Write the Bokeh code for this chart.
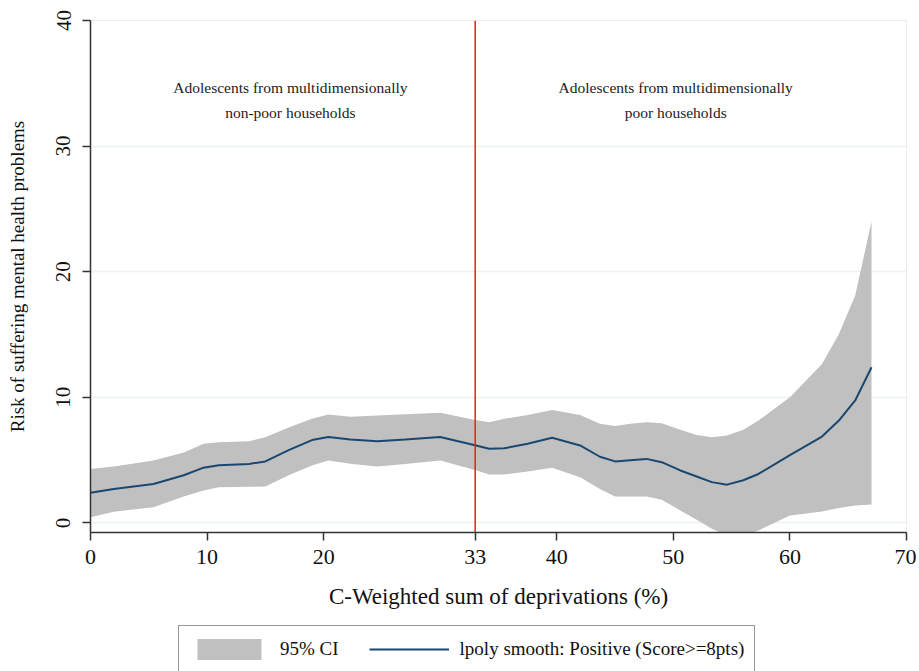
from bokeh.plotting import figure
from bokeh.layouts import column
from bokeh.models import ColumnDataSource, Range1d, Span, Label, Legend, LegendItem, FixedTicker
from bokeh.embed import file_html
from bokeh.resources import INLINE

# ---- data ----
deprivation = [0, 2, 5.4, 8, 9.7, 11, 13.6, 15, 17, 19, 20.4, 22.3, 24.6, 27, 30,
               32.9, 34.2, 35.5, 37.5, 39.6, 42, 43.7, 45, 46.3, 47.7, 49, 50.6,
               52, 53.3, 54.6, 56, 57.3, 60, 62.75, 64.2, 65.6, 67]
risk = [2.4, 2.7, 3.1, 3.8, 4.4, 4.6, 4.7, 4.9, 5.8, 6.6, 6.85, 6.65, 6.5, 6.65, 6.85,
        6.2, 5.9, 5.95, 6.3, 6.78, 6.17, 5.27, 4.9, 5.0, 5.1, 4.84, 4.18,
        3.7, 3.25, 3.05, 3.4, 3.9, 5.4, 6.88, 8.15, 9.75, 12.4]
ci_upper = [4.3, 4.5, 4.97, 5.6, 6.3, 6.43, 6.5, 6.83, 7.6, 8.3, 8.63, 8.45, 8.55, 8.65, 8.77,
            8.21, 8.02, 8.29, 8.6, 9.0, 8.6, 7.9, 7.72, 7.9, 8.02, 7.94, 7.41,
            7.0, 6.83, 6.96, 7.41, 8.15, 10.0, 12.66, 15.05, 18.1, 24.0]
ci_lower = [0.46, 0.9, 1.26, 2.1, 2.59, 2.85, 2.88, 2.9, 3.8, 4.57, 4.97, 4.71, 4.5, 4.7, 4.97,
            4.23, 3.86, 3.86, 4.1, 4.39, 3.64, 2.7, 2.11, 2.11, 2.11, 1.85, 1.0,
            0.25, -0.46, -1.0, -1.0, -0.6, 0.6, 0.91, 1.2, 1.39, 1.47]
x_ticks = [0, 10, 20, 33, 40, 50, 60, 70]
y_ticks = [0, 10, 20, 30, 40]
poverty_cutoff = 33
label_left = "Adolescents from multidimensionally\nnon-poor households"
label_right = "Adolescents from multidimensionally\npoor households"

FONT = "Liberation Serif"
BAND = '#c0c0c0'
NAVY = '#1a476f'

src = ColumnDataSource(dict(x=deprivation, y=risk, lo=ci_lower, hi=ci_upper))

p = figure(width=916, height=622, output_backend="svg", toolbar_location=None,
           x_range=Range1d(0, 70), y_range=Range1d(-0.76, 40),
           min_border_left=90, min_border_top=20, min_border_right=10, min_border_bottom=90)

band = p.varea(x='x', y1='lo', y2='hi', source=src, fill_color=BAND, fill_alpha=1)
line = p.line(x='x', y='y', source=src, line_color=NAVY, line_width=2)

p.add_layout(Span(location=poverty_cutoff, dimension='height', line_color='#f01a1a', line_width=1.5))

for txt, xc in [(label_left, 17.15), (label_right, 50.2)]:
    p.add_layout(Label(x=xc, y=35.35, text=txt, text_align='center', text_baseline='top',
                       text_font=FONT, text_font_size='15.5px', text_color='#222222',
                       text_line_height=1.5))

# axes
p.xaxis.ticker = FixedTicker(ticks=x_ticks)
p.yaxis.ticker = FixedTicker(ticks=y_ticks)
for ax in (p.xaxis[0], p.yaxis[0]):
    ax.axis_line_color = '#333333'
    ax.axis_line_width = 1.5
    ax.major_tick_line_color = '#333333'
    ax.major_tick_line_width = 1.5
    ax.major_tick_out = 8
    ax.major_tick_in = 0
    ax.minor_tick_line_color = None
    ax.major_label_text_font = FONT
    ax.axis_label_text_font = FONT
    ax.axis_label_text_font_style = 'normal'
    ax.major_label_text_color = '#111111'
    ax.axis_label_text_color = '#111111'

p.xaxis.major_label_text_font_size = '22px'
p.xaxis.axis_label = "C-Weighted sum of deprivations (%)"
p.xaxis.axis_label_text_font_size = '23px'
p.xaxis.major_label_standoff = 9
p.xaxis.axis_label_standoff = 17

p.yaxis.major_label_text_font_size = '21px'
p.yaxis.major_label_orientation = 'vertical'
p.yaxis.axis_label = "Risk of suffering mental health problems"
p.yaxis.axis_label_text_font_size = '19px'
p.yaxis.major_label_standoff = 12
p.yaxis.axis_label_standoff = 26

p.xgrid.grid_line_color = None
p.ygrid.grid_line_color = '#eaf2f3'
p.ygrid.grid_line_width = 1.5
p.outline_line_color = '#e6eef0'
p.background_fill_color = 'white'
p.border_fill_color = 'white'

# legend panel below the chart (proxy glyphs sit outside the visible range)
q = figure(width=916, height=49, output_backend="svg", toolbar_location=None,
           x_range=Range1d(0, 1), y_range=Range1d(0, 1),
           min_border_left=0, min_border_top=0, min_border_right=0, min_border_bottom=0)
q.axis.visible = False
q.grid.grid_line_color = None
q.outline_line_color = None
lband = q.varea(x=[5, 6], y1=[5, 5], y2=[6, 6], fill_color=BAND, fill_alpha=1)
lline = q.line(x=[5, 6], y=[5, 5], line_color=NAVY, line_width=2)
legend = Legend(items=[LegendItem(label="95% CI", renderers=[lband]),
                       LegendItem(label="lpoly smooth: Positive (Score>=8pts)", renderers=[lline])],
                orientation='horizontal', location=(88, -2),
                glyph_width=80, glyph_height=26, label_standoff=11, spacing=30,
                padding=10, margin=0,
                label_text_font=FONT, label_text_font_size='19px', label_text_color='#111111',
                border_line_color='#333333', border_line_width=1.5,
                background_fill_color='white', background_fill_alpha=1)
q.add_layout(legend, 'center')

layout = column(p, q, spacing=0)
open("out.html", "w").write(file_html(layout, INLINE))
